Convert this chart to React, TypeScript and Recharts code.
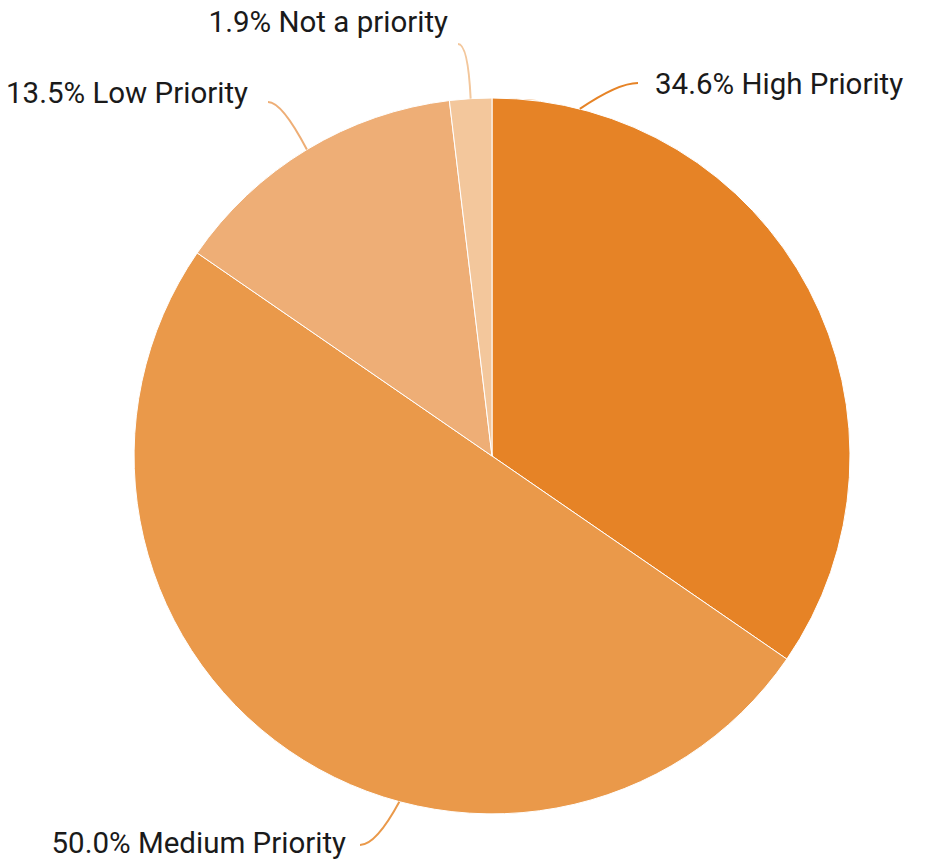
import React from 'react';
import { PieChart, Pie, Cell } from 'recharts';

const categories = ['High Priority', 'Medium Priority', 'Low Priority', 'Not a priority'];
const shares = [34.6, 50.0, 13.5, 1.9];
const colors = ['#E68326', '#EA994A', '#EEAE76', '#F3C79C'];

// label placement relative to the pie centre (leader anchor angle, elbow end, text position)
const labelLayout = [
  { angle: 75.8, end: [146, -373], ctrl: -20, text: [163, -372], anchor: 'start' },
  { angle: 255, end: [-132, 389], ctrl: 16, text: [-146, 387], anchor: 'end' },
  { angle: null, end: [-224, -354], ctrl: 14, text: [-244, -363], anchor: 'end' },
  { angle: null, end: [-34, -412], ctrl: 10, text: [-44, -434], anchor: 'end' },
];

const data = categories.map((name, i) => ({ name, value: shares[i] }));

const RAD = Math.PI / 180;

const renderLabel = (props: any) => {
  const { cx, cy, outerRadius, midAngle, index, value, name } = props;
  const L = labelLayout[index];
  const a = (L.angle ?? midAngle) * RAD;
  const sx = cx + outerRadius * Math.cos(a);
  const sy = cy - outerRadius * Math.sin(a);
  const ex = cx + L.end[0];
  const ey = cy + L.end[1];
  const qx = ex + L.ctrl;
  const qy = ey;
  return (
    <g>
      <path d={`M${sx},${sy} Q${qx},${qy} ${ex},${ey}`} stroke={colors[index]} strokeWidth={2} fill="none" />
      <text
        x={cx + L.text[0]}
        y={cy + L.text[1]}
        textAnchor={L.anchor}
        dominantBaseline="central"
        fontFamily="Roboto, sans-serif"
        fontSize={29.5}
        fill="#1a1a1a"
      >
        {`${Number(value).toFixed(1)}% ${name}`}
      </text>
    </g>
  );
};

export default function App() {
  return (
    <div style={{ position: 'absolute', left: 0, top: 0, width: 925, height: 865, background: '#fff' }}>
      <PieChart width={925} height={865} margin={{ top: 0, right: 0, bottom: 0, left: 0 }}>
        <Pie
          data={data}
          dataKey="value"
          nameKey="name"
          cx={492}
          cy={456}
          outerRadius={358}
          startAngle={90}
          endAngle={-270}
          stroke="#ffffff"
          strokeWidth={1}
          label={renderLabel}
          labelLine={false}
          isAnimationActive={false}
        >
          {data.map((d, i) => (
            <Cell key={d.name} fill={colors[i]} />
          ))}
        </Pie>
      </PieChart>
    </div>
  );
}
